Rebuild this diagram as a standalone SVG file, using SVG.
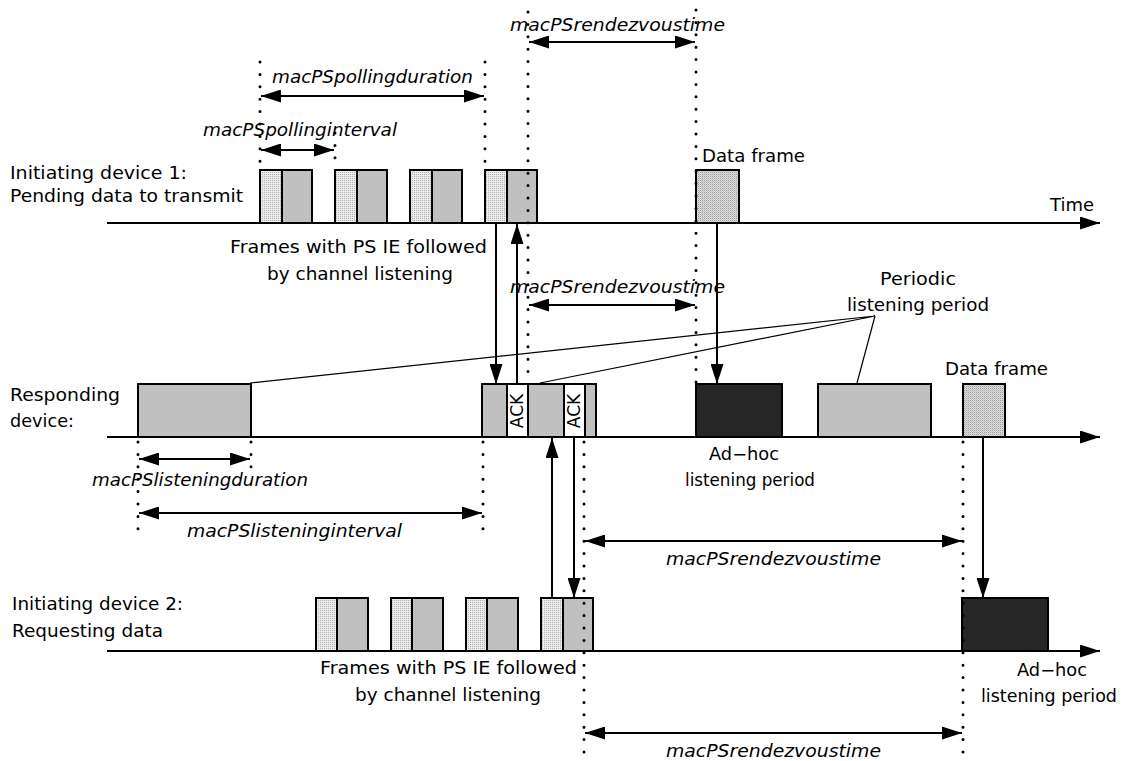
<svg xmlns="http://www.w3.org/2000/svg" width="1123" height="761" viewBox="0 0 1123 761">
  <style>
    .t { font-family: "DejaVu Sans", "Liberation Sans", sans-serif; font-size: 17px; fill: #000; }
    .i { font-family: "DejaVu Sans", "Liberation Sans", sans-serif; font-size: 17px; font-style: italic; fill: #000; }
    .axis { stroke: #000; stroke-width: 2; fill: none; }
    .box { stroke: #000; stroke-width: 2; }
    .gray { fill: #c0c0c0; }
    .light { fill: url(#stip); }
    .data { fill: url(#stip2); }
    .dark { fill: #262626; }
    .ack { fill: #fff; }
    .dot { stroke: #000; stroke-width: 3; stroke-linecap: round; stroke-dasharray: 0 12.4; fill: none; }
    .arr { stroke: #000; stroke-width: 2; fill: none; marker-end: url(#ah); }
    .dim { stroke: #000; stroke-width: 2; fill: none; marker-start: url(#ah); marker-end: url(#ah); }
    .ptr { stroke: #000; stroke-width: 1.2; fill: none; }
  </style>
  <defs>
    <marker id="ah" viewBox="0 0 20 13" refX="20" refY="6.5" markerWidth="20" markerHeight="13" markerUnits="userSpaceOnUse" orient="auto-start-reverse">
      <path d="M0,0 L20,6.5 L0,13 z" fill="#000"/>
    </marker>
    <pattern id="stip" width="2" height="2" patternUnits="userSpaceOnUse">
      <rect width="2" height="2" fill="#ebebeb"/>
      <rect width="1" height="1" fill="#b0b0b0"/>
    </pattern>
    <pattern id="stip2" width="2" height="2" patternUnits="userSpaceOnUse">
      <rect width="2" height="2" fill="#dedede"/>
      <rect width="1" height="1" fill="#9c9c9c"/>
      <rect x="1" y="1" width="1" height="1" fill="#c4c4c4"/>
    </pattern>
  </defs>

  <!-- time axes -->
  <g id="axes">
    <line class="axis" x1="107" y1="223" x2="1100" y2="223" marker-end="url(#ah)"/>
    <line class="axis" x1="107" y1="437" x2="1100" y2="437" marker-end="url(#ah)"/>
    <line class="axis" x1="107" y1="651" x2="1100" y2="651" marker-end="url(#ah)"/>
    <text class="t" x="1050" y="211" textLength="44" lengthAdjust="spacingAndGlyphs">Time</text>
  </g>

  <!-- initiating device 1 -->
  <g id="device1">
    <text class="t" x="10" y="179" textLength="177" lengthAdjust="spacingAndGlyphs">Initiating device 1:</text>
    <text class="t" x="10" y="202" textLength="233" lengthAdjust="spacingAndGlyphs">Pending data to transmit</text>
    <g id="d1-frame1">
      <rect class="box light" x="260" y="170" width="22" height="53"/>
      <rect class="box gray" x="282" y="170" width="30" height="53"/>
    </g>
    <g id="d1-frame2">
      <rect class="box light" x="335" y="170" width="22" height="53"/>
      <rect class="box gray" x="357" y="170" width="30" height="53"/>
    </g>
    <g id="d1-frame3">
      <rect class="box light" x="410" y="170" width="22" height="53"/>
      <rect class="box gray" x="432" y="170" width="30" height="53"/>
    </g>
    <g id="d1-frame4">
      <rect class="box light" x="485" y="170" width="22" height="53"/>
      <rect class="box gray" x="507" y="170" width="30" height="53"/>
    </g>
    <g id="d1-data">
      <rect class="box data" x="696" y="170" width="43" height="53"/>
      <text class="t" x="702" y="162" textLength="103" lengthAdjust="spacingAndGlyphs">Data frame</text>
    </g>
    <text class="t" x="230" y="253" textLength="257" lengthAdjust="spacingAndGlyphs">Frames with PS IE followed</text>
    <text class="t" x="267" y="280" textLength="186" lengthAdjust="spacingAndGlyphs">by channel listening</text>
  </g>

  <!-- responding device -->
  <g id="responder">
    <text class="t" x="10" y="401" textLength="110" lengthAdjust="spacingAndGlyphs">Responding</text>
    <text class="t" x="10" y="427" textLength="64" lengthAdjust="spacingAndGlyphs">device:</text>
    <rect id="r-listen1" class="box gray" x="138" y="384" width="113" height="53"/>
    <g id="r-cluster">
      <rect class="box gray" x="482" y="384" width="25" height="53"/>
      <rect class="box ack" x="507" y="384" width="21" height="53"/>
      <rect class="box gray" x="528" y="384" width="36" height="53"/>
      <rect class="box ack" x="564" y="384" width="21" height="53"/>
      <rect class="box gray" x="585" y="384" width="11" height="53"/>
      <text class="t" transform="translate(523,411) rotate(-90)" text-anchor="middle">ACK</text>
      <text class="t" transform="translate(580,411) rotate(-90)" text-anchor="middle">ACK</text>
    </g>
    <g id="r-adhoc">
      <rect class="box dark" x="696" y="384" width="86" height="53"/>
      <text class="t" x="744" y="460" text-anchor="middle" textLength="70" lengthAdjust="spacingAndGlyphs">Ad−hoc</text>
      <text class="t" x="750" y="486" text-anchor="middle" textLength="130" lengthAdjust="spacingAndGlyphs">listening period</text>
    </g>
    <rect id="r-listen2" class="box gray" x="818" y="384" width="113" height="53"/>
    <g id="r-data">
      <rect class="box data" x="963" y="384" width="42" height="53"/>
      <text class="t" x="945" y="375" textLength="103" lengthAdjust="spacingAndGlyphs">Data frame</text>
    </g>
    <g id="r-periodic-label">
      <text class="t" x="918" y="285" text-anchor="middle" textLength="76" lengthAdjust="spacingAndGlyphs">Periodic</text>
      <text class="t" x="918" y="311" text-anchor="middle" textLength="142" lengthAdjust="spacingAndGlyphs">listening period</text>
    </g>
  </g>

  <!-- initiating device 2 -->
  <g id="device2">
    <text class="t" x="12" y="610" textLength="171" lengthAdjust="spacingAndGlyphs">Initiating device 2:</text>
    <text class="t" x="12" y="637" textLength="151" lengthAdjust="spacingAndGlyphs">Requesting data</text>
    <g id="d2-frame1">
      <rect class="box light" x="316" y="598" width="21" height="53"/>
      <rect class="box gray" x="337" y="598" width="31" height="53"/>
    </g>
    <g id="d2-frame2">
      <rect class="box light" x="391" y="598" width="21" height="53"/>
      <rect class="box gray" x="412" y="598" width="31" height="53"/>
    </g>
    <g id="d2-frame3">
      <rect class="box light" x="466" y="598" width="21" height="53"/>
      <rect class="box gray" x="487" y="598" width="31" height="53"/>
    </g>
    <g id="d2-frame4">
      <rect class="box light" x="541" y="598" width="22" height="53"/>
      <rect class="box gray" x="563" y="598" width="30" height="53"/>
    </g>
    <g id="d2-adhoc">
      <rect class="box dark" x="962" y="598" width="86" height="53"/>
      <text class="t" x="1052" y="676" text-anchor="middle" textLength="70" lengthAdjust="spacingAndGlyphs">Ad−hoc</text>
      <text class="t" x="1049" y="702" text-anchor="middle" textLength="136" lengthAdjust="spacingAndGlyphs">listening period</text>
    </g>
    <text class="t" x="320" y="674" textLength="257" lengthAdjust="spacingAndGlyphs">Frames with PS IE followed</text>
    <text class="t" x="355" y="701" textLength="186" lengthAdjust="spacingAndGlyphs">by channel listening</text>
  </g>

  <!-- timing markers, dimensions and message arrows -->
  <g id="connectors">
    <!-- dotted reference lines -->
    <line class="dot" x1="260" y1="62" x2="260" y2="168"/>
    <line class="dot" x1="335" y1="133" x2="335" y2="168"/>
    <line class="dot" x1="485" y1="62" x2="485" y2="168"/>
    <line class="dot" x1="528" y1="12" x2="528" y2="373"/>
    <line class="dot" x1="696" y1="10" x2="696" y2="382"/>
    <line class="dot" x1="138" y1="442" x2="138" y2="530"/>
    <line class="dot" x1="251" y1="442" x2="251" y2="470"/>
    <line class="dot" x1="483" y1="442" x2="483" y2="530"/>
    <line class="dot" x1="584" y1="442" x2="584" y2="757"/>
    <line class="dot" x1="963" y1="442" x2="963" y2="757"/>

    <!-- duration arrows -->
    <line class="dim" x1="261" y1="96" x2="484" y2="96"/>
    <text class="i" x="272" y="83" textLength="201" lengthAdjust="spacingAndGlyphs">macPSpollingduration</text>
    <line class="dim" x1="261" y1="150" x2="334" y2="150"/>
    <text class="i" x="203" y="136" textLength="194" lengthAdjust="spacingAndGlyphs">macPSpollinginterval</text>
    <line class="dim" x1="529" y1="42" x2="695" y2="42"/>
    <text class="i" x="510" y="31" textLength="215" lengthAdjust="spacingAndGlyphs">macPSrendezvoustime</text>
    <line class="dim" x1="529" y1="305" x2="695" y2="305"/>
    <text class="i" x="510" y="293" textLength="215" lengthAdjust="spacingAndGlyphs">macPSrendezvoustime</text>
    <line class="dim" x1="139" y1="459" x2="250" y2="459"/>
    <text class="i" x="92" y="486" textLength="216" lengthAdjust="spacingAndGlyphs">macPSlisteningduration</text>
    <line class="dim" x1="139" y1="513" x2="482" y2="513"/>
    <text class="i" x="187" y="537" textLength="215" lengthAdjust="spacingAndGlyphs">macPSlisteninginterval</text>
    <line class="dim" x1="585" y1="541" x2="962" y2="541"/>
    <text class="i" x="666" y="565" textLength="215" lengthAdjust="spacingAndGlyphs">macPSrendezvoustime</text>
    <line class="dim" x1="585" y1="733" x2="962" y2="733"/>
    <text class="i" x="666" y="757" textLength="215" lengthAdjust="spacingAndGlyphs">macPSrendezvoustime</text>

    <!-- frame exchange arrows -->
    <line class="arr" x1="496" y1="224" x2="496" y2="384"/>
    <line class="arr" x1="517" y1="384" x2="517" y2="224"/>
    <line class="arr" x1="717" y1="224" x2="717" y2="384"/>
    <line class="arr" x1="552" y1="598" x2="552" y2="438"/>
    <line class="arr" x1="574" y1="438" x2="574" y2="598"/>
    <line class="arr" x1="983" y1="438" x2="983" y2="598"/>

    <!-- periodic listening period pointers -->
    <polyline class="ptr" points="250,383 875,316 540,383"/>
    <line class="ptr" x1="875" y1="316" x2="857" y2="383"/>
  </g>
</svg>
